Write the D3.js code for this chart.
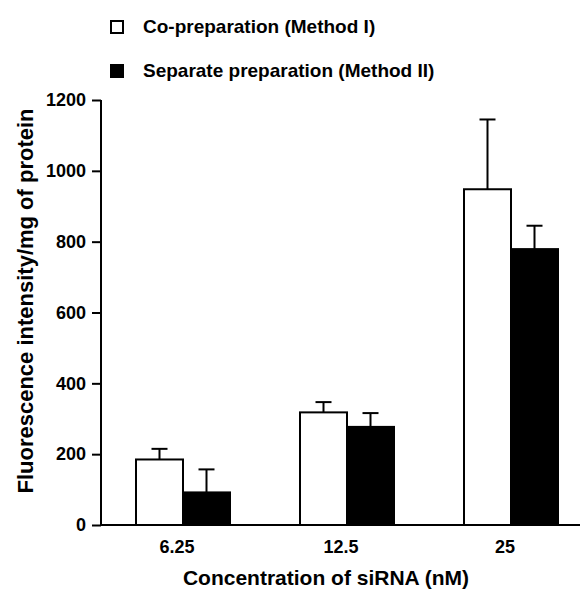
<!DOCTYPE html>
<html>
<head>
<meta charset="utf-8">
<script src="https://cdn.jsdelivr.net/npm/d3@7"></script>
<style>
  html, body { margin: 0; padding: 0; background: #fff; overflow: hidden; }
  svg { display: block; }
</style>
</head>
<body>
<div id="canvas"></div>
<script>
// data
var categories = ['6.25', '12.5', '25'];
var seriesNames = ['Co-preparation (Method I)', 'Separate preparation (Method II)'];
var method1 = [185, 318, 948];
var method1Err = [30, 29, 197];
var method2 = [92, 277, 779];
var method2Err = [65, 39, 66];
var yTicks = [0, 200, 400, 600, 800, 1000, 1200];

var fontFamily = 'Liberation Sans, Arial, sans-serif';
var outerWidth = 580, outerHeight = 592;
var margin = { left: 101, top: 100, right: 0, bottom: 67 };
var innerHeight = outerHeight - margin.top - margin.bottom;

var svg = d3.select('#canvas').append('svg')
  .attr('width', outerWidth)
  .attr('height', outerHeight)
  .attr('font-family', fontFamily)
  .attr('font-weight', 'bold');

var g = svg.append('g')
  .attr('transform', 'translate(' + margin.left + ',' + margin.top + ')');

var x0 = d3.scaleBand().domain(categories).range([0, 492]);
var x1 = d3.scaleBand().domain([0, 1]).range([x0.bandwidth() / 2 - 47, x0.bandwidth() / 2 + 47]);
var y = d3.scaleLinear().domain([0, 1200]).range([innerHeight, 0]);

var series = [
  { name: seriesNames[0], values: method1, err: method1Err, fill: '#fff' },
  { name: seriesNames[1], values: method2, err: method2Err, fill: '#000' }
];

// bars and error bars (upper half only)
series.forEach(function (s, si) {
  var grp = g.append('g').attr('class', 'series' + si);
  categories.forEach(function (c, i) {
    var bx = x0(c) + x1(si);
    var cx = bx + x1.bandwidth() / 2;
    var top = y(s.values[i] + s.err[i]);
    grp.append('line')
      .attr('x1', cx).attr('x2', cx)
      .attr('y1', y(s.values[i])).attr('y2', top)
      .attr('stroke', '#000').attr('stroke-width', 2);
    grp.append('line')
      .attr('x1', cx - 8).attr('x2', cx + 8)
      .attr('y1', top).attr('y2', top)
      .attr('stroke', '#000').attr('stroke-width', 2);
    grp.append('rect')
      .attr('x', bx)
      .attr('y', y(s.values[i]))
      .attr('width', x1.bandwidth())
      .attr('height', y(0) - y(s.values[i]))
      .attr('fill', s.fill)
      .attr('stroke', '#000')
      .attr('stroke-width', 2);
  });
});

// y axis
var yAxis = g.append('g')
  .call(d3.axisLeft(y).tickValues(yTicks).tickFormat(d3.format('d')).tickSize(9).tickPadding(6))
  .attr('font-size', 18).attr('font-family', fontFamily).attr('font-weight', 'bold');
yAxis.select('.domain').attr('d', 'M0,' + y(1200) + 'V' + y(0)).attr('stroke-width', 2);
yAxis.selectAll('.tick line').attr('stroke-width', 2);
yAxis.selectAll('.tick text').attr('fill', '#000').attr('text-anchor', 'end');

// x axis, no tick marks
var xAxis = g.append('g')
  .attr('transform', 'translate(0,' + innerHeight + ')')
  .call(d3.axisBottom(x0).tickSize(0).tickPadding(15))
  .attr('font-size', 18).attr('font-family', fontFamily).attr('font-weight', 'bold');
xAxis.select('.domain').attr('d', 'M0,0H' + (outerWidth - margin.left)).attr('stroke-width', 2);
xAxis.selectAll('.tick text').attr('dx', -6).attr('fill', '#000').attr('text-anchor', 'middle');

// axis titles
svg.append('text')
  .attr('x', 326).attr('y', 585)
  .attr('text-anchor', 'middle')
  .attr('font-size', 21)
  .text('Concentration of siRNA (nM)');

svg.append('text')
  .attr('transform', 'translate(33,301) rotate(-90)')
  .attr('text-anchor', 'middle')
  .attr('font-size', 22)
  .text('Fluorescence intensity/mg of protein');

// legend
var legend = svg.append('g');
series.forEach(function (s, si) {
  var ly = 21 + si * 44;
  legend.append('rect')
    .attr('x', 111).attr('y', ly)
    .attr('width', 12).attr('height', 12)
    .attr('fill', s.fill).attr('stroke', '#000').attr('stroke-width', 2);
  legend.append('text')
    .attr('x', 143).attr('y', ly + 12)
    .attr('font-size', 19)
    .text(s.name);
});
</script>
</body>
</html>
